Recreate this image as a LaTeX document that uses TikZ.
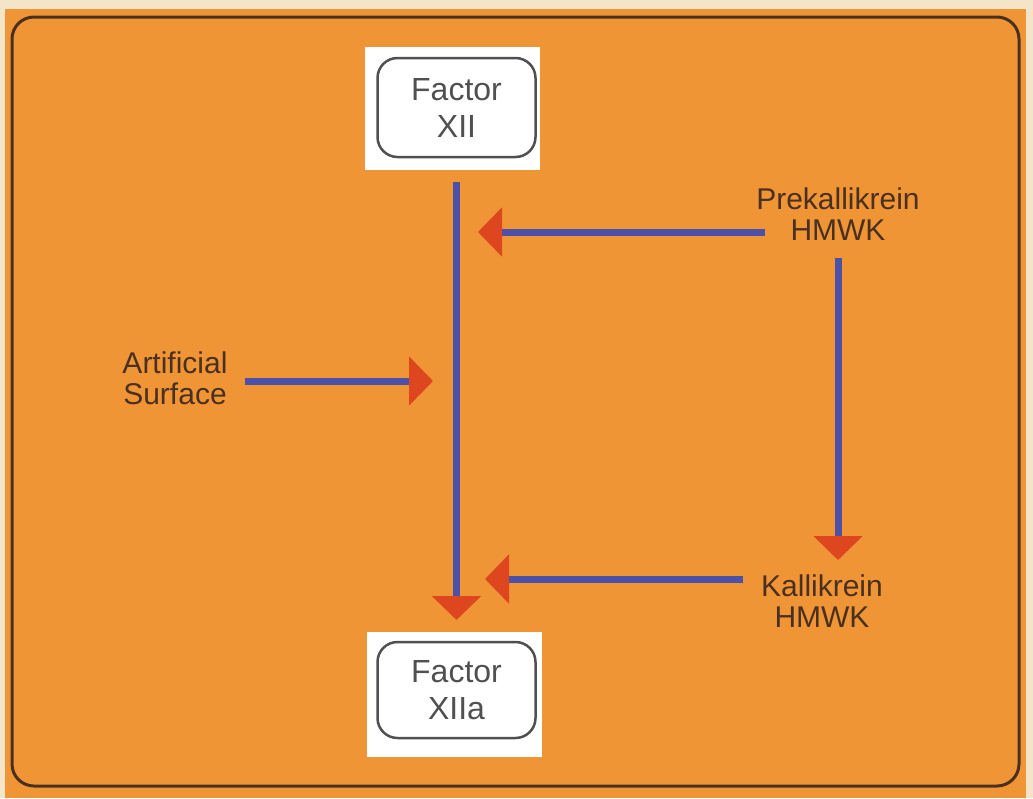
\documentclass[tikz,border=0pt]{standalone}
\usepackage{fontspec}
\setmainfont{Liberation Sans}
\usetikzlibrary{arrows.meta}
\definecolor{bgorange}{HTML}{EF9536}
\definecolor{cream}{HTML}{F4E4C8}
\definecolor{framebrown}{HTML}{4B3020}
\definecolor{lineblue}{HTML}{4B50A8}
\definecolor{tipred}{HTML}{DE4620}
\definecolor{labelbrown}{HTML}{4A3020}
\definecolor{boxgrey}{HTML}{505050}
\tikzset{
  factorbox/.style={draw=boxgrey, line width=2.5pt, rounded corners=20pt,
    minimum width=158pt, inner sep=0pt, outer sep=0pt, align=center,
    text=boxgrey, font=\fontsize{32}{37}\selectfont},
  label/.style={align=center, inner sep=0pt, text=labelbrown,
    font=\fontsize{30}{31}\selectfont},
  flow/.style={draw=lineblue, line width=7pt,
    -{Triangle[width=48pt,length=24pt,color=tipred]}},
  whitepad/.style={fill=white}
}
\begin{document}
\begin{tikzpicture}[x=1pt,y=-1pt]
\useasboundingbox (0,0) rectangle (1033,798);
\fill[cream] (0,0) rectangle (1033,798);
\fill[bgorange] (5,9) rectangle (1026,798);
\draw[framebrown, line width=3pt, rounded corners=22pt] (12,17) rectangle (1019,786);
% white pads
\fill[whitepad] (365,47) rectangle (540,170);
\fill[whitepad] (367,632) rectangle (542,757);
% nodes
\node[factorbox, minimum height=99pt] (f12) at (456.5,107.5) {Factor\\XII};
\node[factorbox, minimum height=96pt] (f12a) at (456.5,690) {Factor\\XIIa};
\node[label] (pk) at (838,214.5) {Prekallikrein\\HMWK};
\node[label] (kk) at (822,601.5) {Kallikrein\\HMWK};
\node[label] (as) at (175,378) {Artificial\\Surface};
% connector ends
\coordinate (pkstart) at (765,232);
\coordinate (pkend) at (478,232);
\coordinate (kkstart) at (743,579);
\coordinate (kkend) at (485,579);
\coordinate (asstart) at (245,381);
\coordinate (asend) at (433,381);
\coordinate (dstart) at (838,258);
\coordinate (dend) at (838,560);
% connectors
\draw[flow, shorten <=25pt, shorten >=22pt] (f12) -- (f12a);
\draw[flow] (pkstart) -- (pkend);
\draw[flow] (kkstart) -- (kkend);
\draw[flow] (asstart) -- (asend);
\draw[flow] (dstart) -- (dend);
\end{tikzpicture}
\end{document}
